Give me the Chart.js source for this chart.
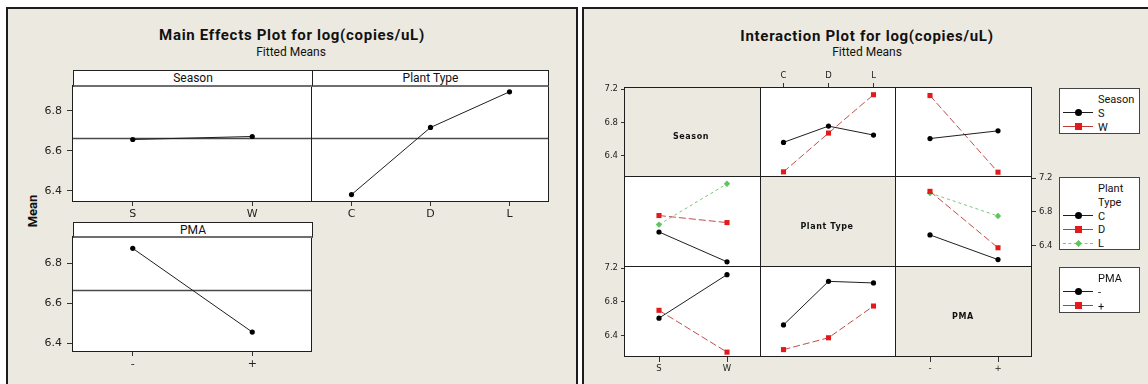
<!DOCTYPE html>
<html>
<head>
<meta charset="utf-8">
<script src="https://cdn.jsdelivr.net/npm/chart.js@4.4.1/dist/chart.umd.min.js"></script>
<style>
  body { margin: 0; background: #fff; }
  #stage { position: relative; width: 1148px; height: 384px; overflow: hidden; font-family: Roboto, sans-serif; color: #111; }
  .panel { position: absolute; background: #ece9e0; border: 2px solid #1c1c1c; box-sizing: border-box; }
  .txt { position: absolute; transform: translate(-50%, -50%); white-space: nowrap; line-height: 1; }
  .strip { position: absolute; background: #fff; border: 1px solid #222; border-bottom: 2px solid #6f6f6f;
           box-sizing: border-box; font-size: 12px; text-align: center; line-height: 14px; }
  .legend { position: absolute; background: #fff; border: 1px solid #444; box-sizing: border-box; }
  .lg-txt { position: absolute; font-size: 11px; line-height: 1; transform: translateY(-50%); white-space: nowrap; }
  canvas { position: absolute; }
</style>
</head>
<body>
<div id="stage">
  <div class="panel" style="left:6px;top:7px;width:572px;height:400px"></div>
  <div class="panel" style="left:582px;top:7px;width:600px;height:400px"></div>
</div>
<script>
// main effects (fitted means)
const seasonLevels = ["S", "W"]
const plantLevels  = ["C", "D", "L"]
const pmaLevels    = ["-", "+"]
const seasonMeans  = [6.657, 6.672]
const plantMeans   = [6.382, 6.717, 6.895]
const pmaMeans     = [6.875, 6.455]
const grandMean    = 6.665
const mainTicks    = [6.4, 6.6, 6.8]

// interaction fitted means
const sByPlant     = [6.560, 6.756, 6.648]   // Season S across C, D, L
const wByPlant     = [6.205, 6.672, 7.134]   // Season W across C, D, L
const sByPma       = [6.606, 6.699]          // Season S across -, +
const wByPma       = [7.124, 6.201]          // Season W across -, +
const minusByPlant = [6.525, 7.044, 7.025]   // PMA - across C, D, L
const plusByPlant  = [6.231, 6.372, 6.750]   // PMA + across C, D, L
const interTicks   = [6.4, 6.8, 7.2]

const stage = document.getElementById("stage")
const M = 40

function txt(text, cx, cy, css) {
  const d = document.createElement("div")
  d.className = "txt"
  d.textContent = text
  d.style.left = cx + "px"
  d.style.top = cy + "px"
  Object.assign(d.style, css || {})
  stage.appendChild(d)
  return d
}

function strip(text, x, y, w, h) {
  const d = document.createElement("div")
  d.className = "strip"
  d.textContent = text
  Object.assign(d.style, { left: x + "px", top: y + "px", width: w + "px", height: h + "px" })
  stage.appendChild(d)
}

// white fill, reference line and box frame around each chart area
const cellFrame = {
  id: "cellFrame",
  beforeDraw(chart, args, opts) {
    const a = chart.chartArea
    if (opts.fill) {
      chart.ctx.save()
      chart.ctx.fillStyle = opts.fill
      chart.ctx.fillRect(a.left, a.top, a.width, a.height)
      chart.ctx.restore()
    }
  },
  beforeDatasetsDraw(chart, args, opts) {
    if (opts.ref == null) return
    const a = chart.chartArea
    const y = Math.round(chart.scales.y.getPixelForValue(opts.ref)) + 0.5
    const ctx = chart.ctx
    ctx.save()
    ctx.strokeStyle = "#4a4a4a"
    ctx.lineWidth = 1.3
    ctx.beginPath()
    ctx.moveTo(a.left, y)
    ctx.lineTo(a.right, y)
    ctx.stroke()
    ctx.restore()
  },
  afterDraw(chart, args, opts) {
    const a = chart.chartArea
    const ctx = chart.ctx
    ctx.save()
    ctx.strokeStyle = "#1e1e1e"
    ctx.lineWidth = 1
    ctx.strokeRect(a.left - 0.5, a.top - 0.5, a.width, a.height)
    ctx.restore()
  }
}

function addCell(o) {
  const cv = document.createElement("canvas")
  cv.width = o.w + 2 * M
  cv.height = o.h + 2 * M
  cv.style.left = (o.x - M) + "px"
  cv.style.top = (o.y - M) + "px"
  stage.appendChild(cv)

  const pad = { left: M, right: M, top: M, bottom: M }
  if (o.yPos) pad[o.yPos] = M - o.ySize
  if (o.xPos) pad[o.xPos] = M - o.xSize
  const font = { family: o.family, size: o.size }

  return new Chart(cv, {
    type: "line",
    data: { labels: o.labels || [], datasets: o.datasets || [] },
    options: {
      responsive: false,
      animation: false,
      events: [],
      layout: { padding: pad },
      plugins: {
        legend: { display: false },
        tooltip: { enabled: false },
        cellFrame: { fill: o.fill, ref: o.ref }
      },
      scales: {
        x: {
          type: "category",
          offset: true,
          display: !!o.xPos,
          position: o.xPos || "bottom",
          grid: { offset: false, drawOnChartArea: false, tickLength: o.xTl, color: "#333" },
          border: { display: false },
          ticks: { font, color: "#222", padding: o.xPad, maxRotation: 0, autoSkip: false },
          afterFit: s => { s.height = o.xPos ? o.xSize : 0 }
        },
        y: {
          type: "linear",
          min: o.min,
          max: o.max,
          display: !!o.yPos,
          position: o.yPos || "left",
          grid: { drawOnChartArea: false, tickLength: o.yTl, color: "#333" },
          border: { display: false },
          ticks: { font, color: "#222", padding: o.yPad, callback: v => v.toFixed(1) },
          afterBuildTicks: s => { s.ticks = o.ticks.map(v => ({ value: v })) },
          afterFit: s => { s.width = o.yPos ? o.ySize : 0 }
        }
      }
    },
    plugins: [cellFrame]
  })
}

const black = { borderColor: "#1f1f1f", pointStyle: "circle", pointRadius: 2.6, pointBackgroundColor: "#000", pointBorderColor: "#000" }
const red   = { borderColor: "rgba(185,45,45,0.85)", borderDash: [7, 3], pointStyle: "rect", pointRadius: 3.6, pointBackgroundColor: "#e31a1c", pointBorderColor: "#e31a1c" }
const green = { borderColor: "#78c878", borderDash: [3, 3], pointStyle: "rectRot", pointRadius: 3.2, pointBackgroundColor: "#5ec45e", pointBorderColor: "#5ec45e" }

function series(label, data, st) {
  return Object.assign({ label, data, borderWidth: 1, tension: 0, clip: false, pointBorderWidth: 0 }, st)
}

// ---------- main effects panel ----------
txt("Main Effects Plot for log(copies/uL)", 292, 35, { fontWeight: "bold", fontSize: "15px", letterSpacing: "0.7px" })
txt("Fitted Means", 291, 52, { fontSize: "12px" })
txt("Mean", 32, 211, { fontWeight: "bold", fontSize: "13px", transform: "translate(-50%,-50%) rotate(-90deg)" })

const mainBase = { family: "DejaVu Sans", size: 11, yTl: 6, yPad: 5, ySize: 40, xTl: 4, xPad: 2, xSize: 22, ticks: mainTicks, fill: "#fff", ref: grandMean }

addCell(Object.assign({}, mainBase, {
  x: 73, y: 86, w: 239, h: 116, min: 6.345, max: 6.924, yPos: "left", xPos: "bottom",
  labels: seasonLevels, datasets: [series("Season", seasonMeans, black)]
}))
addCell(Object.assign({}, mainBase, {
  x: 312, y: 86, w: 237, h: 116, min: 6.345, max: 6.924, xPos: "bottom",
  labels: plantLevels, datasets: [series("Plant Type", plantMeans, black)]
}))
addCell(Object.assign({}, mainBase, {
  x: 73, y: 237, w: 239, h: 115, min: 6.355, max: 6.932, yPos: "left", xPos: "bottom",
  labels: pmaLevels, datasets: [series("PMA", pmaMeans, black)]
}))
strip("Season", 73, 70, 240, 17)
strip("Plant Type", 312, 70, 237, 17)
strip("PMA", 73, 222, 240, 16)

// ---------- interaction panel ----------
txt("Interaction Plot for log(copies/uL)", 867, 36, { fontWeight: "bold", fontSize: "15px", letterSpacing: "0.7px" })
txt("Fitted Means", 867, 52, { fontSize: "12px" })

const colX = [625, 761, 896, 1032]
const rowY = [88, 177, 267, 357]
const inter = { family: "DejaVu Sans", size: 8.5, yTl: 4, yPad: 3, ySize: 30, xTl: 5, xPad: 2, xSize: 18, ticks: interTicks, min: 6.143, max: 7.215 }
function box(c, r) {
  return { x: colX[c], y: rowY[r], w: colX[c + 1] - colX[c], h: rowY[r + 1] - rowY[r] }
}

// row 1: Season traces
addCell(Object.assign({}, inter, box(0, 0), { yPos: "left" }))
addCell(Object.assign({}, inter, box(1, 0), {
  fill: "#fff", xPos: "top", labels: plantLevels,
  datasets: [series("S", sByPlant, black), series("W", wByPlant, red)]
}))
addCell(Object.assign({}, inter, box(2, 0), {
  fill: "#fff", labels: pmaLevels,
  datasets: [series("S", sByPma, black), series("W", wByPma, red)]
}))

// row 2: Plant Type traces
addCell(Object.assign({}, inter, box(0, 1), {
  fill: "#fff", labels: seasonLevels,
  datasets: [
    series("C", [sByPlant[0], wByPlant[0]], black),
    series("D", [sByPlant[1], wByPlant[1]], red),
    series("L", [sByPlant[2], wByPlant[2]], green)
  ]
}))
addCell(Object.assign({}, inter, box(1, 1)))
addCell(Object.assign({}, inter, box(2, 1), {
  fill: "#fff", yPos: "right", labels: pmaLevels,
  datasets: [
    series("C", [minusByPlant[0], plusByPlant[0]], black),
    series("D", [minusByPlant[1], plusByPlant[1]], red),
    series("L", [minusByPlant[2], plusByPlant[2]], green)
  ]
}))

// row 3: PMA traces
addCell(Object.assign({}, inter, box(0, 2), {
  fill: "#fff", yPos: "left", xPos: "bottom", labels: seasonLevels,
  datasets: [
    series("-", [sByPma[0], wByPma[0]], black),
    series("+", [sByPma[1], wByPma[1]], red)
  ]
}))
addCell(Object.assign({}, inter, box(1, 2), {
  fill: "#fff", labels: plantLevels,
  datasets: [series("-", minusByPlant, black), series("+", plusByPlant, red)]
}))
addCell(Object.assign({}, inter, box(2, 2), { xPos: "bottom", labels: pmaLevels }))

const diag = { fontWeight: "bold", fontSize: "8px", fontFamily: "DejaVu Sans", letterSpacing: "0.6px" }
txt("Season", 691, 137, diag)
txt("Plant Type", 827, 227, diag)
txt("PMA", 963, 317, diag)

// ---------- legends ----------
function legend(top, titleLines, entries) {
  const left = 1059, step = 13.8
  const n = titleLines.length + entries.length
  const d = document.createElement("div")
  d.className = "legend"
  Object.assign(d.style, { left: left + "px", top: top + "px", width: "81px", height: (10 + (n - 1) * step + 8) + "px" })
  stage.appendChild(d)
  let y = 10
  titleLines.forEach(t => {
    const s = document.createElement("div")
    s.className = "lg-txt"
    s.textContent = t
    Object.assign(s.style, { left: "38px", top: y + "px" })
    d.appendChild(s)
    y += step
  })
  entries.forEach(e => {
    const ln = document.createElement("div")
    Object.assign(ln.style, { position: "absolute", left: "3px", width: "30px", top: (y - 0.5) + "px", height: "0",
      borderTop: "1px " + (e.dash ? "dashed " : "solid ") + e.line })
    d.appendChild(ln)
    const mk = document.createElement("div")
    const sz = e.shape === "diamond" ? 5 : 7
    Object.assign(mk.style, { position: "absolute", left: (18 - sz / 2) + "px", top: (y - sz / 2) + "px",
      width: sz + "px", height: sz + "px", background: e.fill,
      borderRadius: e.shape === "circle" ? "50%" : "0", transform: e.shape === "diamond" ? "rotate(45deg)" : "none" })
    d.appendChild(mk)
    const s = document.createElement("div")
    s.className = "lg-txt"
    s.textContent = e.label
    Object.assign(s.style, { left: "38px", top: y + "px" })
    d.appendChild(s)
    y += step
  })
}

legend(88, ["Season"], [
  { label: seasonLevels[0], line: "#1f1f1f", fill: "#000", shape: "circle" },
  { label: seasonLevels[1], line: "#c03a3a", fill: "#e31a1c", shape: "square" }
])
legend(177, ["Plant", "Type"], [
  { label: plantLevels[0], line: "#1f1f1f", fill: "#000", shape: "circle" },
  { label: plantLevels[1], line: "#c03a3a", fill: "#e31a1c", shape: "square" },
  { label: plantLevels[2], line: "#78c878", fill: "#5ec45e", shape: "diamond", dash: true }
])
legend(267, ["PMA"], [
  { label: pmaLevels[0], line: "#1f1f1f", fill: "#000", shape: "circle" },
  { label: pmaLevels[1], line: "#c03a3a", fill: "#e31a1c", shape: "square" }
])
</script>
</body>
</html>
